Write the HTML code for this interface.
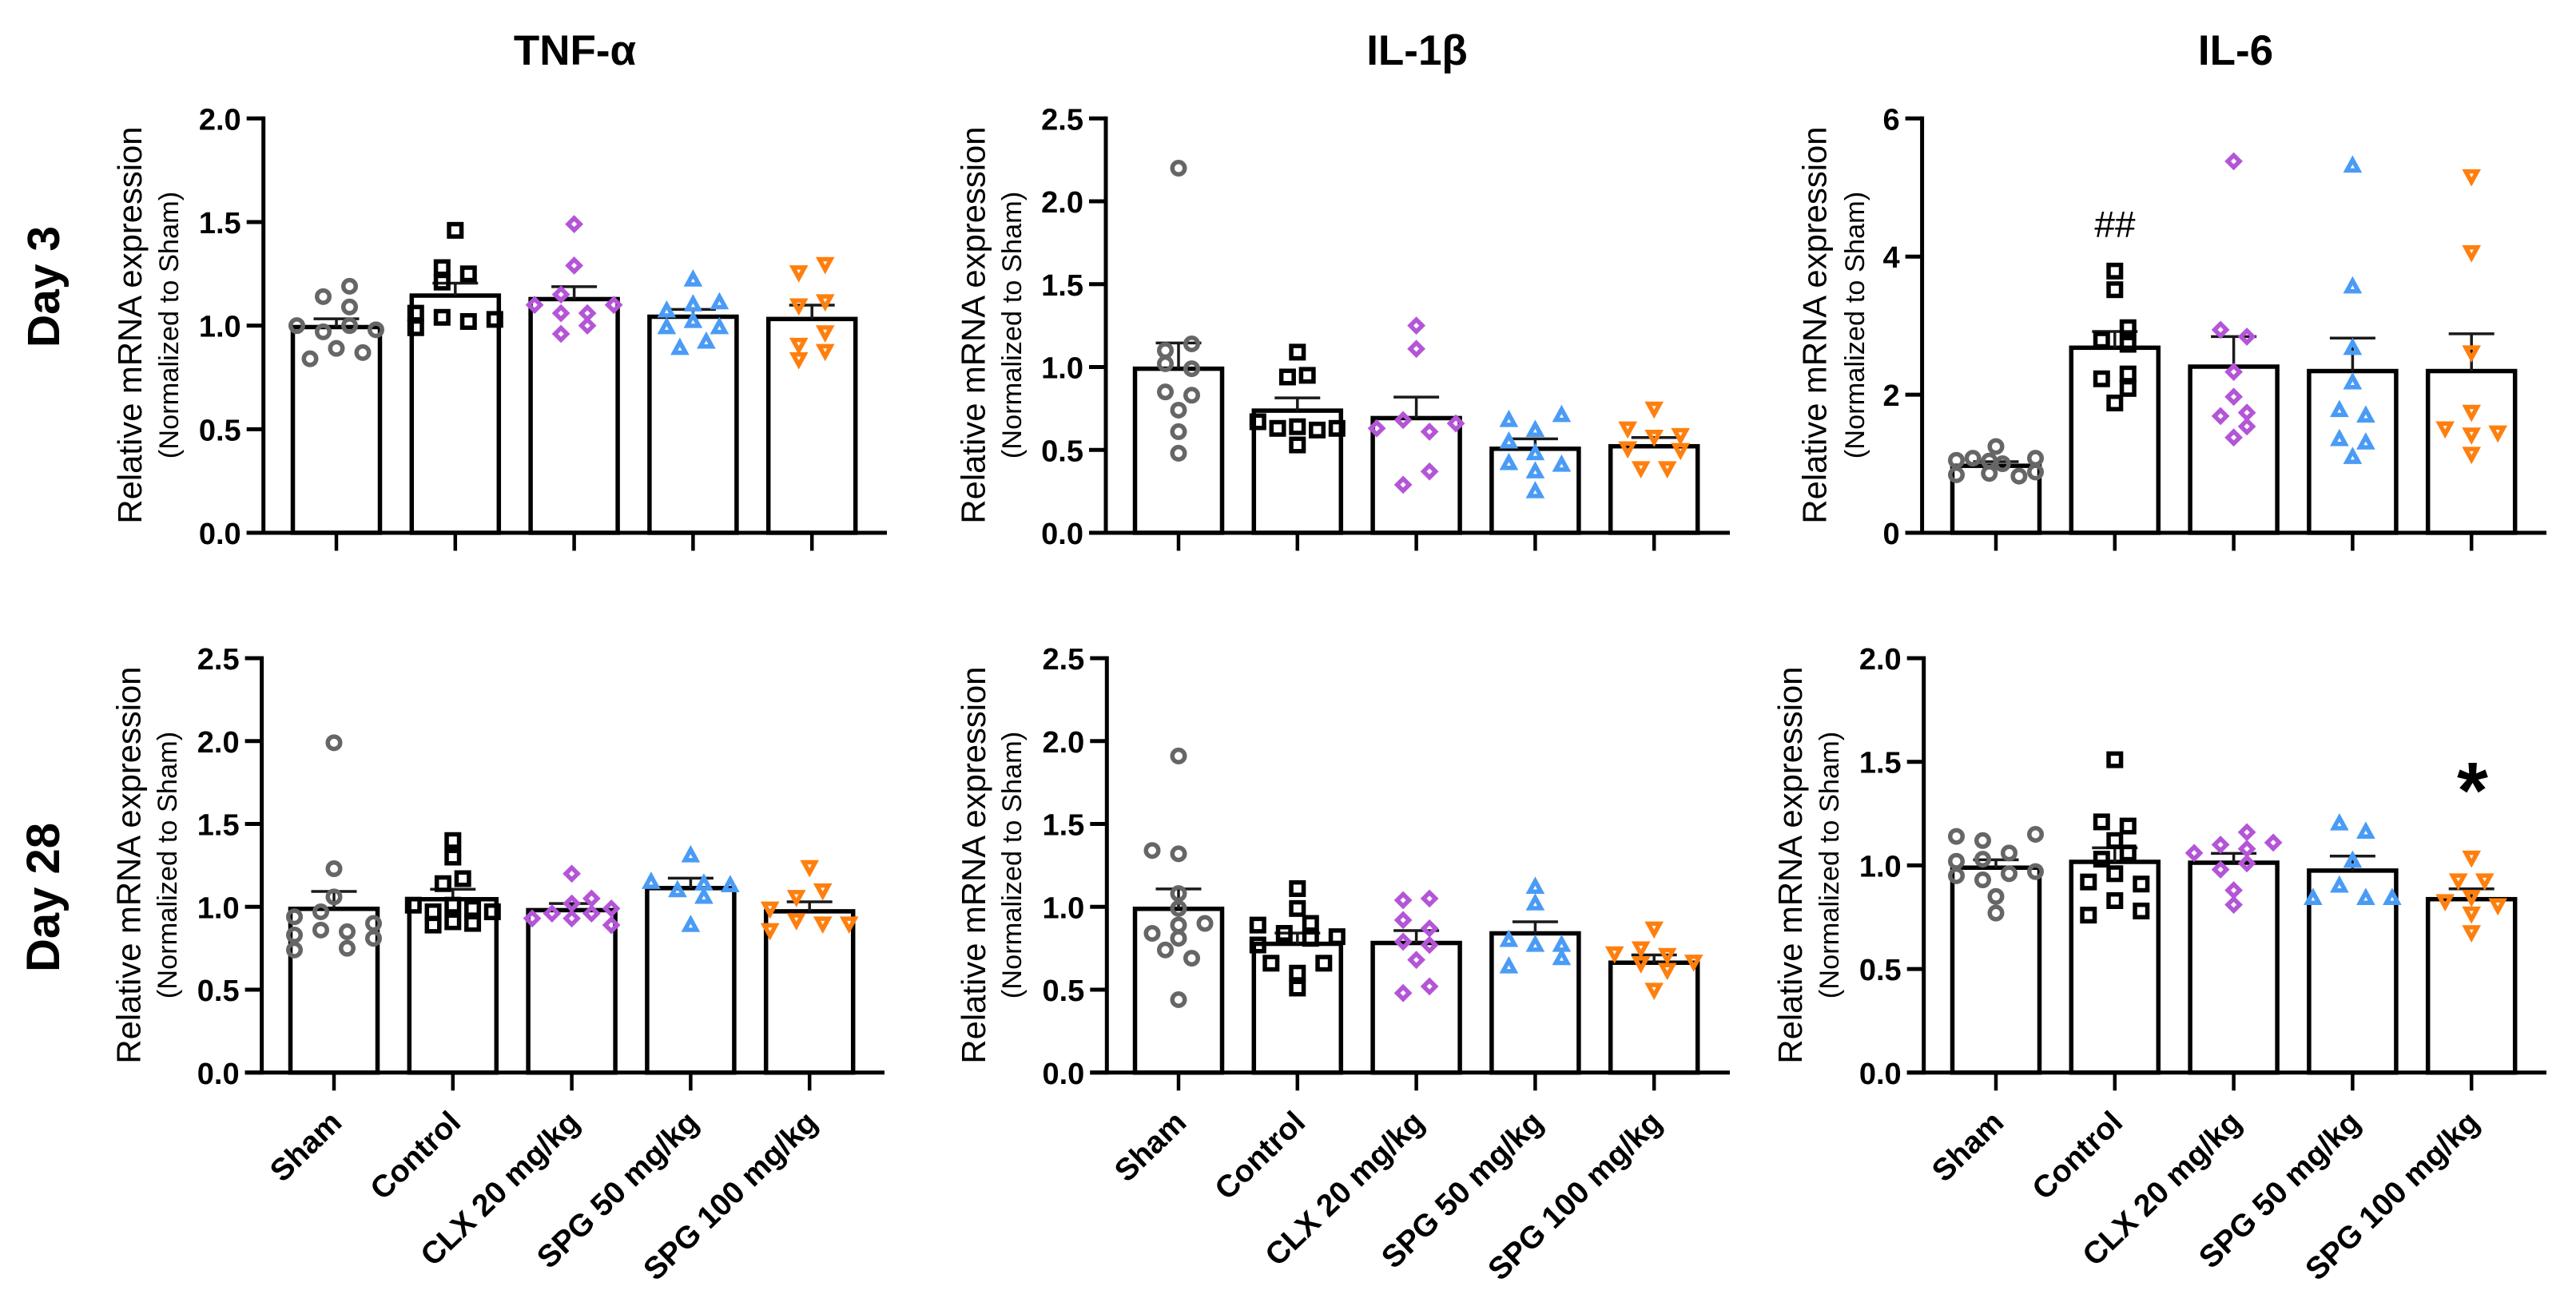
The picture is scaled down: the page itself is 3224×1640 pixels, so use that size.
<!DOCTYPE html>
<html lang="en">
<head>
<meta charset="utf-8">
<title>mRNA expression bar charts</title>
<style>
html,body{margin:0;padding:0;background:#fff;}
svg{display:block;}
text{font-family:"Liberation Sans",Arial,sans-serif;fill:#000;}
</style>
</head>
<body>
<svg id="figure" xmlns="http://www.w3.org/2000/svg" width="3224" height="1640" viewBox="0 0 3224 1640">
  <rect x="0" y="0" width="3224" height="1640" fill="#ffffff"/>
  <text x="719.5" y="81" font-size="53" font-weight="700" text-anchor="middle">TNF-α</text>
  <text x="1773.5" y="81" font-size="53" font-weight="700" text-anchor="middle">IL-1β</text>
  <text x="2798" y="81" font-size="53" font-weight="700" text-anchor="middle">IL-6</text>
  <text transform="translate(74,359) rotate(-90)" font-size="57" font-weight="700" text-anchor="middle">Day 3</text>
  <text transform="translate(74,1123.5) rotate(-90)" font-size="58" font-weight="700" text-anchor="middle">Day 28</text>
  <g id="panels"></g>
  <text x="2647" y="297" font-size="46" text-anchor="middle">##</text>
  <text x="3094.5" y="1024" font-size="100" font-weight="700" text-anchor="middle">*</text>
</svg>
<script>
// Shared labels
const categories = ['Sham', 'Control', 'CLX 20 mg/kg', 'SPG 50 mg/kg', 'SPG 100 mg/kg'];
const yTitle = 'Relative mRNA expression';
const ySubtitle = '(Normalized to Sham)';

// Tick labels
const ticksTo2 = ['0.0', '0.5', '1.0', '1.5', '2.0'];
const ticksTo25 = ['0.0', '0.5', '1.0', '1.5', '2.0', '2.5'];
const ticksTo6 = ['0', '2', '4', '6'];

// TNF-alpha, Day 3
const tnfDay3Means = [0.993, 1.145, 1.128, 1.043, 1.032];
const tnfDay3Sems = [0.04, 0.06, 0.06, 0.035, 0.067];
const tnfDay3Values = [
  [1.19, 1.14, 1.09, 1.00, 1.00, 0.98, 0.97, 0.89, 0.87, 0.84],
  [1.46, 1.28, 1.25, 1.21, 1.06, 1.04, 1.03, 1.02, 0.99],
  [1.49, 1.29, 1.15, 1.10, 1.10, 1.06, 1.06, 1.00, 0.96],
  [1.23, 1.12, 1.11, 1.08, 1.03, 1.00, 1.00, 0.93, 0.90],
  [1.29, 1.25, 1.11, 1.09, 0.96, 0.90, 0.87, 0.83]
];
const tnfDay3Swarm = [
  [1, -1, 1, -3, 1, 3, -1, 0, 2, -2],
  [0, -1, 1, -1, -3, -1, 3, 1, -3],
  [0, 0, -1, -3, 3, -1, 1, 1, -1],
  [0, 2, 0, -2, 0, -2, 2, 1, -1],
  [1, -1, 1, -1, 1, -1, 1, -1]
];

// IL-1 beta, Day 3
const il1Day3Means = [0.99, 0.737, 0.692, 0.507, 0.522];
const il1Day3Sems = [0.155, 0.077, 0.127, 0.06, 0.053];
const il1Day3Values = [
  [2.20, 1.14, 1.10, 1.02, 0.99, 0.85, 0.83, 0.74, 0.61, 0.48],
  [1.09, 0.95, 0.94, 0.67, 0.63, 0.64, 0.62, 0.63, 0.53],
  [1.25, 1.11, 0.68, 0.66, 0.63, 0.61, 0.37, 0.29],
  [0.72, 0.69, 0.63, 0.56, 0.49, 0.43, 0.42, 0.38, 0.26],
  [0.74, 0.62, 0.58, 0.57, 0.50, 0.49, 0.38, 0.38]
];
const il1Day3Swarm = [
  [0, 1, -1, -1, 1, -1, 1, 0, 0, 0],
  [0, 0.75, -0.75, -3, -1.5, 0, 1.5, 3, 0],
  [0, 0, -1, 3, -3, 1, 1, -1],
  [2, -2, 0, -2, 0, -2, 2, 0, 0],
  [0, -2, 2, 0, -2, 2, -1, 1]
];

// IL-6, Day 3
const il6Day3Means = [0.97, 2.68, 2.406, 2.342, 2.342];
const il6Day3Sems = [0.06, 0.235, 0.435, 0.478, 0.54];
const il6Day3Values = [
  [1.25, 1.08, 1.05, 1.08, 1.04, 1.00, 0.84, 0.88, 0.86, 0.82],
  [3.79, 3.52, 2.97, 2.73, 2.79, 2.23, 2.30, 2.09, 1.88],
  [5.38, 2.94, 2.84, 2.33, 1.97, 1.74, 1.69, 1.54, 1.38],
  [5.34, 3.59, 2.70, 2.20, 1.80, 1.72, 1.38, 1.33, 1.12],
  [5.14, 4.04, 2.59, 1.73, 1.49, 1.43, 1.40, 1.12]
];
const il6Day3Swarm = [
  [0, 3, -3, -1.75, -0.5, 0.5, -3, 3, -0.5, 1.75],
  [0, 0, 1, 1, -1, -1, 1, 1, 0],
  [0, -1, 1, 0, 0, 1, -1, 1, 0],
  [0, 0, 0, 0, -1, 1, -1, 1, 0],
  [0, 0, 0, 0, -2, 2, 0, 0]
];

// TNF-alpha, Day 28
const tnfDay28Means = [0.988, 1.046, 0.98, 1.113, 0.973];
const tnfDay28Sems = [0.105, 0.06, 0.04, 0.06, 0.057];
const tnfDay28Values = [
  [1.99, 1.23, 1.06, 0.97, 0.94, 0.90, 0.86, 0.85, 0.83, 0.81, 0.75, 0.74],
  [1.40, 1.30, 1.17, 1.14, 1.01, 0.97, 1.01, 0.99, 0.97, 0.89, 0.91, 0.90],
  [1.20, 1.05, 1.02, 0.99, 0.96, 0.96, 0.93, 0.93, 0.89],
  [1.32, 1.16, 1.14, 1.15, 1.11, 1.07, 0.90],
  [1.23, 1.09, 1.05, 0.98, 0.91, 0.89, 0.89, 0.85]
];
const tnfDay28Swarm = [
  [0, 0, 0, -1, -3, 3, -1, 1, -3, 3, 1, -3],
  [0, 0, 0.75, -0.75, -3, -1.5, 0, 1.5, 3, -1.5, 0, 1.5],
  [0, 1.5, 0, 3, -1.5, 1.5, -3, 0, 3],
  [0, -3, 3, 1, -1, 1, 0],
  [0, 1, -1, -3, -1, 1, 3, -3]
];

// IL-1 beta, Day 28
const il1Day28Means = [0.988, 0.777, 0.782, 0.84, 0.663];
const il1Day28Sems = [0.12, 0.065, 0.075, 0.07, 0.047];
const il1Day28Values = [
  [1.91, 1.34, 1.32, 1.08, 0.99, 0.90, 0.89, 0.84, 0.81, 0.74, 0.69, 0.44],
  [1.11, 0.99, 0.90, 0.89, 0.84, 0.81, 0.82, 0.77, 0.66, 0.66, 0.60, 0.51],
  [1.05, 1.04, 0.92, 0.87, 0.79, 0.77, 0.68, 0.52, 0.48],
  [1.13, 1.03, 0.81, 0.78, 0.78, 0.70, 0.65],
  [0.86, 0.71, 0.74, 0.70, 0.66, 0.65, 0.61, 0.49]
];
const il1Day28Swarm = [
  [0, -2, 0, 0, 0, 2, 0, -2, 0, -1, 1, 0],
  [0, 0, 1, -3, -1, 1, 3, -3, -2, 2, 0, 0],
  [1, -1, -1, 1, -1, 1, 0, 1, -1],
  [0, 0, -2, 0, 2, 2, -2],
  [0, -3, -1, 1, 3, -1, 1, 0]
];

// IL-6, Day 28
const il6Day28Means = [0.989, 1.017, 1.013, 0.975, 0.837];
const il6Day28Sems = [0.038, 0.068, 0.045, 0.07, 0.05];
const il6Day28Values = [
  [1.15, 1.14, 1.12, 1.06, 1.03, 1.02, 0.95, 0.97, 0.96, 0.93, 0.85, 0.77],
  [1.51, 1.21, 1.19, 1.12, 1.06, 1.03, 0.96, 0.92, 0.91, 0.83, 0.76, 0.78],
  [1.16, 1.11, 1.10, 1.08, 1.06, 1.01, 0.98, 0.88, 0.81],
  [1.21, 1.17, 1.03, 0.91, 0.85, 0.85, 0.85],
  [1.03, 0.92, 0.92, 0.84, 0.82, 0.80, 0.76, 0.67]
];
const il6Day28Swarm = [
  [3, -3, -1, 1, -1, -3, -3, 3, 1, -1, 0, 0],
  [0, -1, 1, 0, 1, -1, 0, -2, 2, 0, -2, 2],
  [1, 3, -1, 1, -3, 1, -1, 0, 0],
  [-1, 1, 0, -1, 1, -3, 3],
  [0, -1, 1, 0, -2, 2, 0, 0]
];

// Panel layout (geometry only; data lives in the arrays above)
const panels = [
  {key: 'tnf-day-3', means: tnfDay3Means, sems: tnfDay3Sems, values: tnfDay3Values, swarm: tnfDay3Swarm, ticks: ticksTo2, axisX: 329.7, top: 148.3, base: 667, first: 421, axisEnd: 1110, titleX: 177, subX: 223, midY: 407, labels: false},
  {key: 'il-1-day-3', means: il1Day3Means, sems: il1Day3Sems, values: il1Day3Values, swarm: il1Day3Swarm, ticks: ticksTo25, axisX: 1384, top: 148.3, base: 667, first: 1475, axisEnd: 2165, titleX: 1232.5, subX: 1278, midY: 407, labels: false},
  {key: 'il-6-day-3', means: il6Day3Means, sems: il6Day3Sems, values: il6Day3Values, swarm: il6Day3Swarm, ticks: ticksTo6, axisX: 2405.6, top: 148.3, base: 667, first: 2498, axisEnd: 3187, titleX: 2285.5, subX: 2333, midY: 407, labels: false},
  {key: 'tnf-day-28', means: tnfDay28Means, sems: tnfDay28Sems, values: tnfDay28Values, swarm: tnfDay28Swarm, ticks: ticksTo25, axisX: 327.6, top: 824, base: 1342.8, first: 418, axisEnd: 1107, titleX: 175.4, subX: 221, midY: 1083, labels: true},
  {key: 'il-1-day-28', means: il1Day28Means, sems: il1Day28Sems, values: il1Day28Values, swarm: il1Day28Swarm, ticks: ticksTo25, axisX: 1385.3, top: 824, base: 1342.8, first: 1475, axisEnd: 2165, titleX: 1233, subX: 1278, midY: 1083, labels: true},
  {key: 'il-6-day-28', means: il6Day28Means, sems: il6Day28Sems, values: il6Day28Values, swarm: il6Day28Swarm, ticks: ticksTo2, axisX: 2407.7, top: 824, base: 1342.8, first: 2498, axisEnd: 3187, titleX: 2255, subX: 2301, midY: 1083, labels: true}
];

const seriesColors = ['#666666', '#000000', '#b455d8', '#4a9bf5', '#ff7f0e'];
const seriesShapes = ['circle', 'square', 'diamond', 'triangle', 'triangle-down'];
const seriesSlugs = ['sham', 'control', 'clx-20', 'spg-50', 'spg-100'];
const SVG_NS = 'http://www.w3.org/2000/svg';
const STEP = 148.8;
const SLOT = 16.5;
const BAR_W = 109;
const CAP_W = 57;

function make(tag, attrs, parent) {
  const node = document.createElementNS(SVG_NS, tag);
  for (const k in attrs) node.setAttribute(k, attrs[k]);
  parent.appendChild(node);
  return node;
}

function makeMarker(shape, cx, cy, color, parent) {
  const style = {fill: 'none', stroke: color, 'stroke-width': 5.5, 'stroke-linejoin': 'miter', 'stroke-miterlimit': 10};
  if (shape === 'circle') {
    return make('circle', Object.assign({cx: cx, cy: cy, r: 7.75}, style), parent);
  }
  if (shape === 'square') {
    return make('rect', Object.assign({x: cx - 7.75, y: cy - 7.75, width: 15.5, height: 15.5}, style), parent);
  }
  let pts;
  if (shape === 'diamond') {
    pts = [[0, -7.5], [7.5, 0], [0, 7.5], [-7.5, 0]];
  } else if (shape === 'triangle') {
    pts = [[0, -5.2], [7.2, 8], [-7.2, 8]];
  } else {
    pts = [[0, 5.2], [7.2, -8], [-7.2, -8]];
  }
  const points = pts.map(p => (cx + p[0]) + ',' + (cy + p[1])).join(' ');
  return make('polygon', Object.assign({points: points}, style), parent);
}

const root = document.getElementById('panels');

panels.forEach(panel => {
  const g = make('g', {}, root);
  
  

  const tickNumbers = panel.ticks.map(Number);
  const yMax = tickNumbers[tickNumbers.length - 1];
  const yScale = v => panel.base - (v / yMax) * (panel.base - panel.top);
  const xScale = i => panel.first + i * STEP;

  // Bars
  panel.means.forEach((mean, i) => {
    const bar = make('rect', {x: xScale(i) - BAR_W / 2, y: yScale(mean), width: BAR_W, height: panel.base - yScale(mean), fill: '#ffffff', stroke: '#000000', 'stroke-width': 5.5}, g);
    
    
  });

  // Error bars
  panel.means.forEach((mean, i) => {
    const upper = yScale(mean + panel.sems[i]);
    const stem = make('line', {x1: xScale(i), x2: xScale(i), y1: yScale(mean), y2: upper, stroke: '#1a1a1a', 'stroke-width': 3.5}, g);
    
    
    const cap = make('line', {x1: xScale(i) - CAP_W / 2, x2: xScale(i) + CAP_W / 2, y1: upper, y2: upper, stroke: '#1a1a1a', 'stroke-width': 3.5}, g);
    
    
  });

  // Axes
  const yAxis = make('line', {x1: panel.axisX, x2: panel.axisX, y1: panel.top - 2.5, y2: panel.base + 2.5, stroke: '#000000', 'stroke-width': 5}, g);
  
  
  const xAxis = make('line', {x1: panel.axisX - 21, x2: panel.axisEnd, y1: panel.base, y2: panel.base, stroke: '#000000', 'stroke-width': 5}, g);
  
  

  // Y ticks
  panel.ticks.forEach((label, t) => {
    const y = yScale(tickNumbers[t]);
    const mark = make('line', {x1: panel.axisX - 21, x2: panel.axisX, y1: y, y2: y, stroke: '#000000', 'stroke-width': 5}, g);
    
    
    const txt = make('text', {x: panel.axisX - 28, y: y + 14, 'font-size': 38, 'font-weight': 700, 'text-anchor': 'end'}, g);
    txt.textContent = label;
    
    
  });

  // X ticks and category labels
  categories.forEach((name, i) => {
    const mark = make('line', {x1: xScale(i), x2: xScale(i), y1: panel.base, y2: panel.base + 22.5, stroke: '#000000', 'stroke-width': 4.5}, g);
    
    
    if (panel.labels) {
      const lx = xScale(i) + 12;
      const ly = panel.base + 65;
      const txt = make('text', {transform: 'translate(' + lx + ',' + ly + ') rotate(-44)', 'font-size': 39, 'font-weight': 700, 'text-anchor': 'end'}, g);
      txt.textContent = name;
      
      
    }
  });

  // Axis titles
  const title = make('text', {transform: 'translate(' + panel.titleX + ',' + panel.midY + ') rotate(-90)', 'font-size': 41.8, 'text-anchor': 'middle'}, g);
  title.textContent = yTitle;
  
  
  const sub = make('text', {transform: 'translate(' + panel.subX + ',' + panel.midY + ') rotate(-90)', 'font-size': 34.4, 'text-anchor': 'middle'}, g);
  sub.textContent = ySubtitle;
  
  

  // Individual data points
  panel.values.forEach((group, i) => {
    group.forEach((value, j) => {
      const cx = xScale(i) + panel.swarm[i][j] * SLOT;
      const point = makeMarker(seriesShapes[i], cx, yScale(value), seriesColors[i], g);
      
      
    });
  });
});
</script>
</body>
</html>
